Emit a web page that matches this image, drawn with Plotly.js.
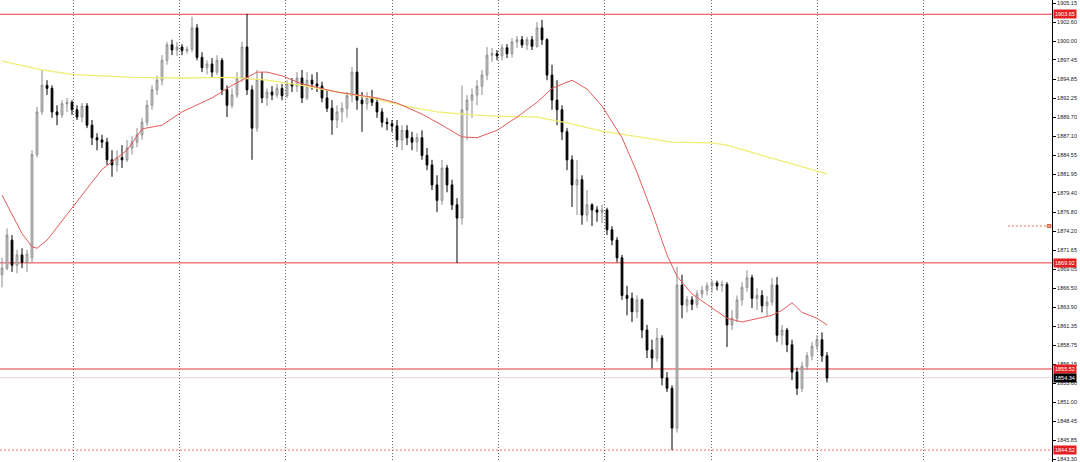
<!DOCTYPE html>
<html>
<head>
<meta charset="utf-8">
<script src="https://cdn.plot.ly/plotly-3.0.1.min.js"></script>
<style>
html,body{margin:0;padding:0;background:#fff;}
#chart{width:1080px;height:462px;}
</style>
</head>
<body>
<div id="chart"></div>
<script>
// ---- OHLC bars ----
const opens = [1868.3,1869.2,1873.0,1869.6,1871.0,1870.0,1870.6,1884.6,1890.4,1894.0,
1893.6,1890.4,1890.0,1891.5,1891.7,1890.7,1889.7,1891.2,1888.6,1886.9,
1886.6,1886.3,1883.9,1883.2,1884.2,1883.9,1885.5,1886.3,1887.3,1889.0,
1891.3,1893.4,1894.7,1897.4,1899.5,1898.8,1899.2,1898.7,1898.9,1901.8,
1897.8,1896.4,1896.9,1895.8,1897.4,1893.4,1891.3,1892.7,1895.0,1899.2,
1893.4,1888.2,1894.7,1892.3,1893.1,1892.7,1893.6,1892.6,1894.2,1893.9,
1895.0,1892.3,1894.7,1894.2,1893.9,1892.3,1890.9,1889.3,1890.4,1890.9,
1892.6,1895.8,1892.0,1891.5,1892.3,1891.7,1890.4,1889.0,1888.8,1888.5,
1886.6,1887.9,1886.9,1886.3,1886.9,1884.5,1883.2,1880.5,1878.4,1882.8,
1880.5,1877.8,1876.0,1890.7,1892.0,1892.7,1893.9,1895.4,1898.1,1898.3,
1898.0,1899.1,1898.3,1899.9,1900.2,1899.5,1900.2,1899.3,1901.8,1900.2,
1895.4,1892.0,1890.7,1887.7,1883.9,1880.5,1881.2,1876.4,1877.8,1877.1,
1876.8,1877.1,1874.4,1873.0,1870.6,1865.5,1865.1,1863.3,1864.9,1860.8,
1858.1,1857.0,1859.7,1854.3,1852.9,1847.5,1866.9,1864.2,1864.9,1864.3,
1865.7,1866.2,1866.8,1867.2,1866.8,1867.0,1861.5,1862.4,1864.9,1866.6,
1867.9,1865.1,1865.5,1864.1,1864.6,1866.9,1860.1,1860.8,1858.8,1855.1,
1852.9,1855.9,1857.3,1858.6,1859.5,1857.3];
const highs = [1870.6,1874.6,1873.7,1871.7,1871.9,1871.7,1885.2,1891.1,1896.1,1894.7,
1894.0,1891.3,1892.0,1892.3,1892.0,1891.3,1891.6,1891.6,1889.3,1887.5,
1887.3,1886.9,1885.2,1885.2,1885.9,1886.6,1887.1,1888.2,1889.6,1892.0,
1894.0,1895.3,1898.1,1899.9,1900.2,1899.9,1899.6,1899.3,1903.3,1902.3,
1898.5,1897.4,1897.7,1898.1,1897.7,1894.0,1893.6,1895.8,1899.9,1903.7,
1894.0,1896.1,1895.8,1893.6,1893.9,1894.2,1894.2,1894.7,1895.0,1895.8,
1896.1,1895.8,1895.5,1895.8,1894.5,1893.4,1892.0,1891.3,1891.7,1893.1,
1896.5,1899.1,1893.1,1893.1,1893.4,1892.3,1890.9,1889.6,1889.3,1889.3,
1888.6,1888.6,1887.7,1887.5,1887.9,1885.5,1883.9,1881.8,1883.9,1883.2,
1881.2,1878.7,1894.0,1892.7,1893.6,1894.7,1896.1,1899.2,1899.1,1898.8,
1899.6,1899.6,1900.4,1900.7,1900.7,1900.6,1900.7,1902.6,1902.9,1900.4,
1896.8,1894.7,1891.3,1888.2,1884.5,1883.9,1881.8,1879.8,1878.0,1877.6,
1877.8,1877.4,1874.9,1873.4,1871.0,1866.8,1865.9,1865.5,1865.1,1861.5,
1859.5,1861.1,1860.1,1855.1,1853.3,1869.4,1868.3,1865.4,1865.4,1866.2,
1866.8,1867.3,1867.6,1867.5,1867.5,1867.3,1863.5,1865.5,1867.3,1868.9,
1868.3,1866.5,1866.2,1865.4,1867.9,1868.0,1861.5,1861.1,1859.5,1855.7,
1856.5,1857.8,1859.2,1860.1,1860.5,1857.8];
const lows = [1866.6,1868.9,1868.7,1868.5,1869.2,1868.7,1870.0,1884.2,1890.0,1892.7,
1889.6,1888.6,1889.6,1890.4,1890.0,1889.3,1889.0,1888.2,1885.9,1885.2,
1885.5,1883.2,1881.6,1882.3,1882.8,1883.6,1884.6,1885.6,1886.6,1888.5,
1890.7,1892.7,1894.0,1896.8,1898.1,1898.0,1898.1,1898.3,1898.5,1897.4,
1895.8,1895.5,1895.1,1895.4,1892.7,1889.7,1890.9,1892.3,1894.5,1892.7,
1883.9,1887.7,1891.6,1891.2,1892.0,1892.3,1892.0,1892.3,1893.1,1893.1,
1891.6,1892.0,1893.4,1893.1,1891.7,1890.4,1887.3,1888.2,1889.0,1889.6,
1891.7,1890.7,1887.7,1890.7,1891.2,1889.6,1888.3,1887.9,1887.7,1885.6,
1885.2,1885.9,1885.2,1885.0,1883.9,1882.5,1879.8,1876.8,1877.8,1879.5,
1877.1,1869.9,1875.1,1886.6,1889.6,1891.3,1892.7,1894.7,1897.2,1897.4,
1897.4,1897.7,1897.8,1899.1,1899.1,1898.8,1898.8,1899.1,1899.5,1894.7,
1890.7,1888.6,1886.6,1882.5,1877.5,1876.4,1875.1,1875.5,1874.9,1875.5,
1875.3,1873.7,1872.3,1870.0,1864.9,1862.8,1861.9,1862.4,1859.7,1857.0,
1855.6,1856.5,1853.3,1852.4,1844.5,1846.9,1862.4,1863.2,1863.5,1863.8,
1865.1,1865.5,1865.9,1866.2,1866.0,1858.5,1860.8,1861.9,1864.1,1866.0,
1863.8,1863.5,1863.2,1862.7,1864.1,1859.2,1858.8,1857.8,1854.0,1852.0,
1852.4,1855.4,1856.7,1858.1,1856.5,1853.7];
const closes = [1869.2,1873.7,1869.6,1871.0,1870.0,1871.1,1884.6,1890.4,1894.0,1893.6,
1890.4,1890.0,1891.5,1891.7,1890.7,1889.7,1891.2,1888.6,1886.9,1886.6,
1886.3,1883.9,1883.2,1884.2,1883.9,1885.5,1886.3,1887.3,1889.0,1891.3,
1893.4,1894.7,1897.4,1899.5,1898.8,1899.2,1898.7,1898.9,1901.8,1897.8,
1896.4,1896.9,1895.8,1897.4,1893.4,1891.3,1892.7,1895.0,1899.2,1893.4,
1888.2,1894.7,1892.3,1893.1,1892.7,1893.6,1892.6,1894.2,1893.9,1895.0,
1892.3,1894.7,1894.2,1893.9,1892.3,1890.9,1889.3,1890.4,1890.9,1892.6,
1895.8,1892.0,1891.5,1892.3,1891.7,1890.4,1889.0,1888.8,1888.5,1886.6,
1887.9,1886.9,1886.3,1886.9,1884.5,1883.2,1880.5,1878.4,1882.8,1880.5,
1877.8,1876.0,1890.7,1892.0,1892.7,1893.9,1895.4,1898.1,1898.3,1898.0,
1899.1,1898.3,1899.9,1900.2,1899.5,1900.2,1899.3,1901.8,1900.2,1895.4,
1892.0,1890.7,1887.7,1883.9,1880.5,1881.2,1876.4,1877.8,1877.1,1876.8,
1877.1,1874.4,1873.0,1870.6,1865.5,1865.1,1863.3,1864.9,1860.8,1858.1,
1857.0,1859.7,1854.3,1852.9,1847.5,1866.9,1864.2,1864.9,1864.3,1865.7,
1866.2,1866.8,1867.2,1866.8,1867.0,1861.5,1862.4,1864.9,1866.6,1867.9,
1865.1,1865.5,1864.1,1864.6,1866.9,1860.1,1860.8,1858.8,1855.1,1852.9,
1855.9,1857.3,1858.6,1859.5,1857.3,1854.3];

// ---- Moving averages (at bar indices) ----
const maRedBars = [0,2,4,6,7,9,14,20,25,28,32,36,42,46,51,53,56,60,67,75,79,84,88,92,95,99,103,107,110,114,117,120,124,127,130,133,135,138,142,145,148,151,154,156,158,160,163,165];
const maRedVals = [1879.1,1876.4,1873.9,1872.1,1871.9,1873.0,1877.4,1882.6,1885.2,1888.1,1888.6,1890.4,1892.3,1894.0,1895.8,1895.8,1895.3,1894.2,1893.1,1892.3,1891.6,1890.1,1888.6,1887.0,1886.9,1887.9,1889.7,1891.7,1893.6,1894.7,1893.5,1891.2,1886.9,1882.2,1876.8,1871.0,1868.1,1865.7,1863.8,1862.4,1861.9,1862.3,1862.8,1863.5,1864.5,1863.2,1862.4,1861.5];
const maYellowBars = [0,8,14,26,36,46,53,60,67,74,80,87,94,100,107,113,120,127,134,142,145,151,157,165];
const maYellowVals = [1897.3,1896.1,1895.5,1895.1,1895.0,1895.1,1894.7,1894.0,1893.1,1892.3,1891.3,1890.4,1890.0,1889.8,1889.7,1888.9,1887.8,1887.0,1886.3,1886.2,1885.9,1884.7,1883.5,1882.0];

// ---- Axis ticks ----
const tickPrices = [1905.15,1902.60,1900.00,1897.45,1894.85,1892.25,1889.70,1887.10,1884.55,1881.95,1879.40,1876.80,1874.20,1871.65,1869.05,1866.50,1863.90,1861.35,1858.75,1856.15,1853.60,1851.00,1848.45,1845.85,1843.30];
const tickLabels = tickPrices.map(v => v.toFixed(2));
// period separators (bar positions)
const separatorBars = [14.2,35.5,56.7,78.0,99.2,120.5,141.8,163.0,184.2];

// ---- Levels ----
const levelPrices = [1903.65, 1869.92, 1855.52];
const levelLabels = ['1903.65','1869.92','1855.52'];
const stopPrice = 1844.52, stopLabel = '1844.52';
const lastPrice = 1854.34, lastLabel = '1854.34';
const alertPrice = 1874.92;

const barIdx = opens.map((_, i) => i);

const traces = [
  {
    type: 'candlestick', x: barIdx, open: opens, high: highs, low: lows, close: closes,
    increasing: {line: {color: '#8c8c8c', width: 1}, fillcolor: '#d8d8d8'},
    decreasing: {line: {color: '#000000', width: 1}, fillcolor: '#000000'},
    whiskerwidth: 0, hoverinfo: 'skip', showlegend: false
  },
  {type: 'scatter', mode: 'lines', x: maYellowBars, y: maYellowVals,
   line: {color: '#f1ec72', width: 1.3}, hoverinfo: 'skip', showlegend: false},
  {type: 'scatter', mode: 'lines', x: maRedBars, y: maRedVals,
   line: {color: '#e65a5a', width: 1}, hoverinfo: 'skip', showlegend: false}
];

const shapes = [];
levelPrices.forEach(p => shapes.push({type: 'line', xref: 'paper', x0: 0, x1: 1, yref: 'y', y0: p, y1: p,
  line: {color: '#e8383a', width: 1}, layer: 'below'}));
shapes.push({type: 'line', xref: 'paper', x0: 0, x1: 1, yref: 'y', y0: stopPrice, y1: stopPrice,
  line: {color: '#e87070', width: 1, dash: '2px,2px'}, layer: 'below'});
shapes.push({type: 'line', xref: 'paper', x0: 0, x1: 1, yref: 'y', y0: lastPrice, y1: lastPrice,
  line: {color: '#ead6d6', width: 1}, layer: 'below'});
shapes.push({type: 'line', xref: 'paper', x0: 0.958, x1: 0.997, yref: 'y', y0: alertPrice, y1: alertPrice,
  line: {color: '#e07050', width: 1, dash: '2px,2px'}});
shapes.push({type: 'rect', xref: 'paper', x0: 0.9955, x1: 0.999, yref: 'y', y0: alertPrice - 0.2, y1: alertPrice + 0.2,
  line: {color: '#d06040', width: 1}, fillcolor: '#f0a080'});

const annotations = [];
function priceBox(p, txt, bg) {
  annotations.push({xref: 'paper', x: 1, xanchor: 'left', xshift: 1, yref: 'y', y: p, yanchor: 'middle',
    text: txt, showarrow: false, bgcolor: bg, borderpad: 1,
    font: {family: 'Liberation Sans, Arial, sans-serif', size: 5.5, color: '#ffffff'}});
}
levelPrices.forEach((p, i) => priceBox(p, levelLabels[i], '#e3201e'));
priceBox(stopPrice, stopLabel, '#e3201e');
priceBox(lastPrice, lastLabel, '#000000');

const layout = {
  width: 1080, height: 462,
  margin: {l: 0, r: 28, t: 0, b: 0, pad: 0},
  paper_bgcolor: '#ffffff', plot_bgcolor: '#ffffff',
  showlegend: false, hovermode: false,
  boxgap: 0.5,
  xaxis: {
    range: [-0.4, 210], showticklabels: false, ticks: '',
    tickmode: 'array', tickvals: separatorBars,
    showgrid: true, gridcolor: '#6a6a6a', gridwidth: 1, griddash: '1px,2px',
    zeroline: false, showline: false, rangeslider: {visible: false}, fixedrange: true
  },
  yaxis: {
    side: 'right', range: [1842.90, 1905.585],
    tickmode: 'array', tickvals: tickPrices, ticktext: tickLabels,
    ticks: 'outside', ticklen: 3, tickcolor: '#000', tickwidth: 1,
    tickfont: {family: 'Liberation Sans, Arial, sans-serif', size: 5.5, color: '#222'},
    showgrid: false, zeroline: false, showline: true, linecolor: '#000', linewidth: 1,
    fixedrange: true
  },
  shapes: shapes,
  annotations: annotations
};

Plotly.newPlot('chart', traces, layout, {displayModeBar: false, staticPlot: true});
</script>
</body>
</html>
